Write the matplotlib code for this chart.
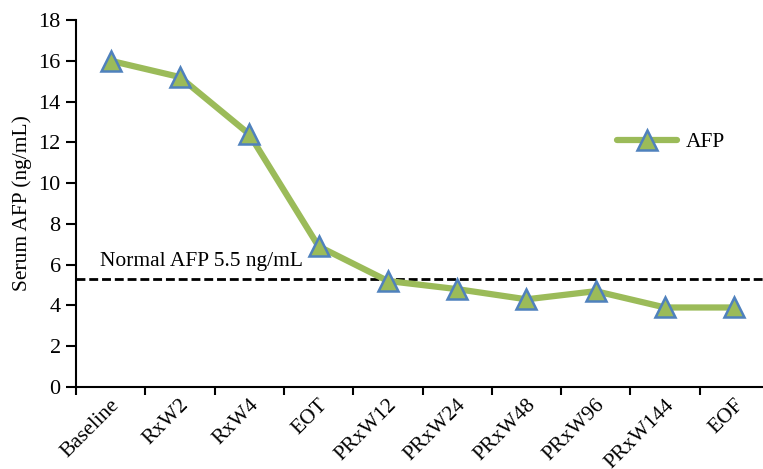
import matplotlib
matplotlib.use("Agg")
import matplotlib.pyplot as plt
import numpy as np

categories = ["Baseline", "RxW2", "RxW4", "EOT", "PRxW12", "PRxW24",
              "PRxW48", "PRxW96", "PRxW144", "EOF"]
afp = [16.0, 15.2, 12.4, 6.9, 5.2, 4.8, 4.3, 4.7, 3.9, 3.9]
normal_line = 5.3
normal_label = "Normal AFP 5.5 ng/mL"
yticks = [0, 2, 4, 6, 8, 10, 12, 14, 16, 18]

plt.rcParams['font.family'] = ['Liberation Serif', 'DejaVu Serif']

W, H = 763, 469
fig = plt.figure(figsize=(W/100, H/100), dpi=100)
left, right, bottom, top = 76, 769, 387, 20
ax = fig.add_axes([left/W, (H-bottom)/H, (right-left)/W, (bottom-top)/H])

x = np.arange(len(categories))
ax.plot(x, afp, color='#9BBB59', lw=4.5, marker='^', markersize=14,
        markerfacecolor='#9BBB59', markeredgecolor='#4F81BD', markeredgewidth=1.8,
        label='AFP', solid_capstyle='round', zorder=3)
ax.axhline(normal_line, color='black', ls=(0, (3.2, 1.4)), lw=2.0, zorder=2)
ax.text(-0.16, normal_line + 0.4, normal_label, fontsize=15.5, ha='left', va='bottom')

ax.set_xlim(-0.5, len(categories) - 0.5)
ax.set_ylim(0, 18)
ax.set_yticks(yticks)
ax.set_yticklabels([str(v) for v in yticks], fontsize=16)
ax.set_xticks(np.arange(len(categories) + 1) - 0.5)
ax.set_xticklabels([])
# label anchor slightly right of each category centre (as in the reference)
ax.set_xticks(x + 0.09, minor=True)
ax.set_xticklabels(categories, minor=True, rotation=45, ha='right', va='center',
                   rotation_mode='anchor', fontsize=15.5)
ax.tick_params(axis='x', which='minor', length=0, pad=11)
ax.tick_params(axis='x', which='major', length=6, width=1.5, direction='out')
ax.tick_params(axis='y', length=7, width=1.5, direction='out', pad=4)
ax.spines['top'].set_visible(False)
ax.spines['right'].set_visible(False)
ax.spines['left'].set_linewidth(1.5)
ax.spines['bottom'].set_linewidth(1.5)
ax.set_ylabel("Serum AFP (ng/mL)", fontsize=15.5, labelpad=5)

ax.legend(loc='center left', bbox_to_anchor=((617-left)/(right-left), (bottom-142)/(bottom-top)),
          frameon=False, fontsize=15.5, handlelength=2.8, handletextpad=0.4,
          borderaxespad=0, borderpad=0)

fig.savefig("out.png", dpi=100)
